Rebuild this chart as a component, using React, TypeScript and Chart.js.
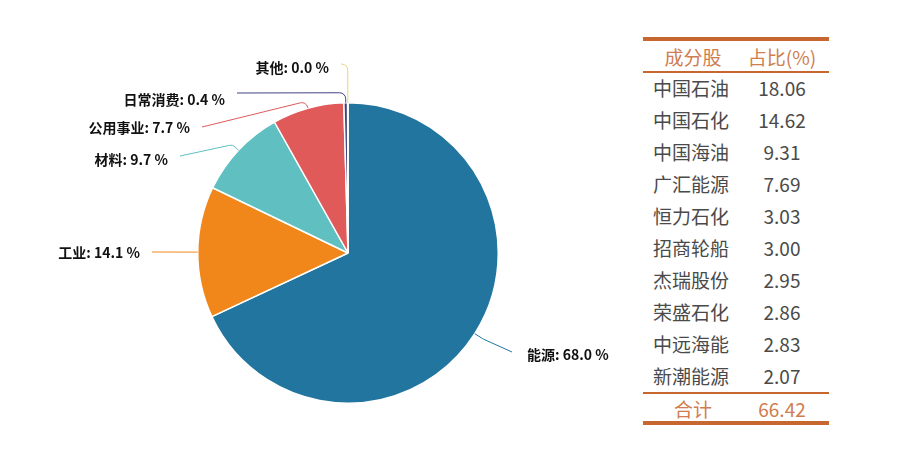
import { useEffect, useRef } from "react";
import { Chart, registerables } from "chart.js";

Chart.register(...registerables);

// sector weights (%)
const sectors = ["能源", "工业", "材料", "公用事业", "日常消费", "其他"];
const weights = [68.0, 14.1, 9.7, 7.7, 0.4, 0.04];
const sectorColors = ["#22759E", "#F1871A", "#60BFC0", "#E05A5A", "#3F4380", "#E8D670"];

// top-10 holdings table
const stocks = ["中国石油", "中国石化", "中国海油", "广汇能源", "恒力石化", "招商轮船", "杰瑞股份", "荣盛石化", "中远海能", "新潮能源"];
const stockWeights = ["18.06", "14.62", "9.31", "7.69", "3.03", "3.00", "2.95", "2.86", "2.83", "2.07"];
const totalWeight = "66.42";

// label layout: extra radius for the bend, end of leader line relative to centre, text dy
const labelLayout: [number, number, number, number][] = [
  [10, 164, 99, 3],
  [0, -196, -1, 1],
  [8, -168, -97, 4],
  [7, -146, -126, 1],
  [10, -111, -160, 7],
  [38, -7, -189, 4],
];

const leaderLabels = {
  id: "leaderLabels",
  afterDatasetsDraw(chart: Chart) {
    const ctx = chart.ctx;
    const meta = chart.getDatasetMeta(0);
    ctx.save();
    meta.data.forEach((el: any, i: number) => {
      const { x, y, startAngle, endAngle, outerRadius } = el.getProps(
        ["x", "y", "startAngle", "endAngle", "outerRadius"],
        true
      );
      const mid = (startAngle + endAngle) / 2;
      const [extra, ex, ey, dy] = labelLayout[i];
      const sx = x + Math.cos(mid) * outerRadius;
      const sy = y + Math.sin(mid) * outerRadius;
      const bx = x + Math.cos(mid) * (outerRadius + extra);
      const by = y + Math.sin(mid) * (outerRadius + extra);
      const lx = x + ex;
      const ly = y + ey;
      ctx.strokeStyle = sectorColors[i];
      ctx.lineWidth = 1;
      ctx.beginPath();
      ctx.moveTo(sx, sy);
      if (extra > 0) ctx.arcTo(bx, by, lx, ly, 6);
      ctx.lineTo(lx, ly);
      ctx.stroke();

      const right = ex > 0;
      ctx.fillStyle = "#111";
      ctx.font = "bold 14px 'Noto Sans CJK SC', 'Noto Sans', sans-serif";
      ctx.textBaseline = "middle";
      ctx.textAlign = right ? "left" : "right";
      const text = `${sectors[i]}: ${weights[i].toFixed(1)} %`;
      ctx.fillText(text, right ? lx + 15 : lx - 12, ly + dy);
    });
    ctx.restore();
  },
};

function SectorPie() {
  const canvasRef = useRef<HTMLCanvasElement>(null);
  const chartInstance = useRef<Chart | null>(null);

  useEffect(() => {
    if (!canvasRef.current) return;
    if (chartInstance.current) chartInstance.current.destroy();

    chartInstance.current = new Chart(canvasRef.current, {
      type: "pie",
      data: {
        labels: sectors,
        datasets: [
          {
            data: weights,
            backgroundColor: sectorColors,
            borderColor: "#fff",
            borderWidth: 1.5,
          },
        ],
      },
      options: {
        responsive: false,
        animation: false,
        layout: { padding: { left: 197, top: 102, right: 121, bottom: 45 } },
        plugins: {
          legend: { display: false },
          tooltip: { enabled: false },
        },
      },
      plugins: [leaderLabels],
    });

    return () => {
      if (chartInstance.current) {
        chartInstance.current.destroy();
        chartInstance.current = null;
      }
    };
  }, []);

  return <canvas ref={canvasRef} width={620} height={449} />;
}

const accent = "#C8662F";
const headColor = "#D07D50";
const bodyColor = "#4A4A4A";
const cjk = "'Noto Sans CJK SC', 'Noto Sans', sans-serif";

function HoldingsTable() {
  const rowH = 32;
  const cell = (text: string, left: number, width: number, top: number, color: string, align: "left" | "center") => (
    <div
      style={{
        position: "absolute",
        left,
        width,
        top,
        height: rowH,
        lineHeight: `${rowH}px`,
        textAlign: align,
        color,
        fontSize: 19,
        fontFamily: cjk,
      }}
    >
      {text}
    </div>
  );
  return (
    <div style={{ position: "absolute", left: 0, top: 0 }}>
      <div style={{ position: "absolute", left: 643, top: 37, width: 186, height: 4, background: accent }} />
      {cell("成分股", 650, 86, 41, headColor, "center")}
      {cell("占比(%)", 740, 84, 41, headColor, "center")}
      <div style={{ position: "absolute", left: 643, top: 71, width: 186, height: 2, background: accent }} />
      {stocks.map((s, i) => (
        <div key={s}>
          {cell(s, 653, 90, 73 + i * rowH - 1, bodyColor, "left")}
          {cell(stockWeights[i], 740, 84, 73 + i * rowH - 1, bodyColor, "center")}
        </div>
      ))}
      <div style={{ position: "absolute", left: 643, top: 392, width: 186, height: 2, background: accent }} />
      {cell("合计", 650, 86, 393, headColor, "center")}
      {cell(totalWeight, 740, 84, 393, headColor, "center")}
      <div style={{ position: "absolute", left: 643, top: 421, width: 186, height: 4, background: accent }} />
    </div>
  );
}

export default function App() {
  return (
    <div style={{ position: "fixed", left: 0, top: 0, width: 913, height: 449, background: "#fff" }}>
      <div style={{ position: "absolute", left: 0, top: 0 }}>
        <SectorPie />
      </div>
      <HoldingsTable />
    </div>
  );
}
